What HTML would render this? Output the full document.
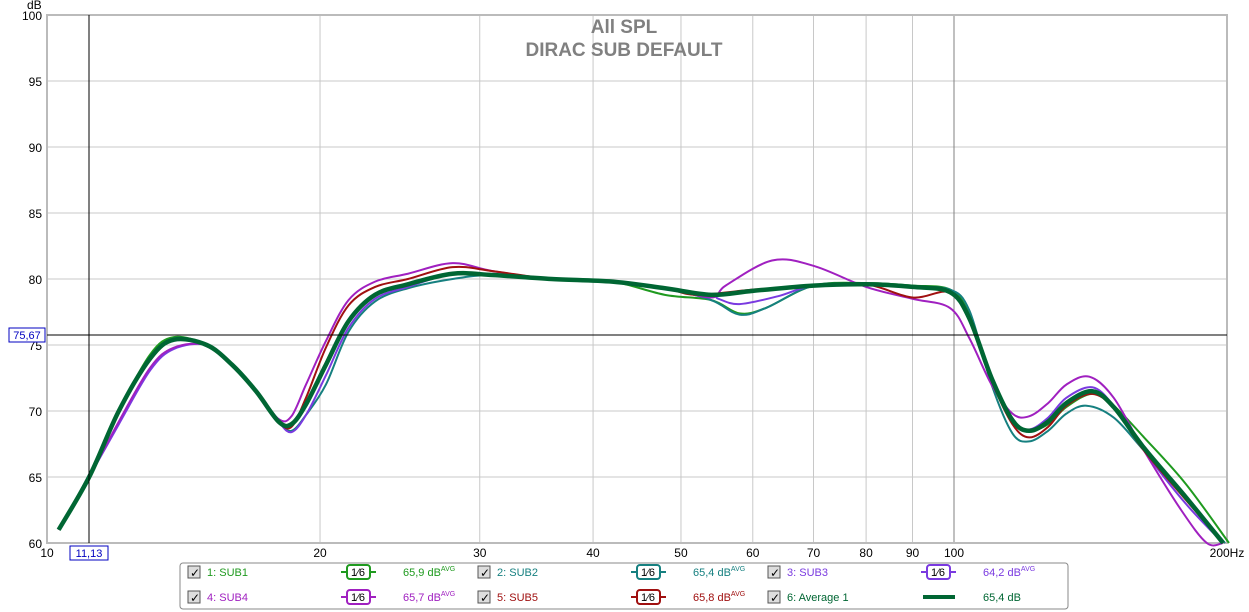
<!DOCTYPE html>
<html><head><meta charset="utf-8"><style>
body{margin:0;background:#fff;}
svg{display:block;font-family:"Liberation Sans",sans-serif;}
</style></head><body>
<svg id="s" width="1249" height="612" viewBox="0 0 1249 612" xmlns="http://www.w3.org/2000/svg">
<rect width="1249" height="612" fill="#fff"/>
<g id="grid"></g>
<rect x="47" y="15" width="1180" height="528" fill="none" stroke="#bbb" stroke-width="2"/>
<text x="624" y="33" text-anchor="middle" font-size="19" font-weight="bold" fill="#808080">All SPL</text>
<text x="624" y="56" text-anchor="middle" font-size="19" font-weight="bold" fill="#808080">DIRAC SUB DEFAULT</text>
<text x="27" y="9" font-size="12" fill="#000">dB</text>
<g id="curves" fill="none"></g>
<line x1="89" y1="15" x2="89" y2="543" stroke="#000" stroke-width="1"/>
<line x1="47" y1="335" x2="1227" y2="335" stroke="#000" stroke-width="1"/>
<rect x="9" y="328" width="36" height="14" fill="#fff" stroke="#0000c0"/>
<text x="27" y="339" text-anchor="middle" font-size="11" fill="#0000c0">75,67</text>
<rect x="70" y="546" width="38" height="14" fill="#fff" stroke="#0000c0"/>
<text x="89" y="557" text-anchor="middle" font-size="11" fill="#0000c0">11,13</text>
<rect x="180" y="563" width="888" height="46" rx="3" fill="#fff" stroke="#888"/>
<g id="leg" font-size="11"></g>
</svg>
<script>
var X=f=>47+907*Math.log10(f/10), Y=d=>15+(100-d)*13.2;
var g=document.getElementById('grid'),h='';
for(var d=60;d<=100;d+=5){var y=Y(d);h+=`<line x1="47" x2="1227" y1="${y}" y2="${y}" stroke="#c8c8c8"/>`;h+=`<text x="42" y="${y+5}" text-anchor="end" font-size="12">${d}</text>`;}
[20,30,40,50,60,70,80,90,100].forEach(f=>{var x=X(f);h+=`<line x1="${x}" x2="${x}" y1="15" y2="543" stroke="${f==100?'#808080':'#c8c8c8'}"/>`;h+=`<text x="${x}" y="557" text-anchor="middle" font-size="12">${f}</text>`;});
h+=`<text x="47" y="557" text-anchor="middle" font-size="12">10</text><text x="1227" y="557" text-anchor="middle" font-size="12">200Hz</text>`;
g.innerHTML=h;
function path(pts){var p=pts.map(a=>[X(a[0]),Y(a[1])]),s='M'+p[0][0]+','+p[0][1];
for(var i=0;i<p.length-1;i++){var p0=p[Math.max(0,i-1)],p1=p[i],p2=p[i+1],p3=p[Math.min(p.length-1,i+2)];
s+=' C'+(p1[0]+(p2[0]-p0[0])/6)+','+(p1[1]+(p2[1]-p0[1])/6)+' '+(p2[0]-(p3[0]-p1[0])/6)+','+(p2[1]-(p3[1]-p1[1])/6)+' '+p2[0]+','+p2[1];}return s;}
function mk(mods){var base=[[10.3,61],[11.13,65],[12,70],[13,74],[13.8,75.4],[15,75],[16,73.5],[17,71.5],[18,69.2],[18.6,69],[19.3,70.5],[20.3,73.5],[21.5,76.8],[23,78.8],[25,79.6],[28,80.4],[31,80.3],[36,80],[42,79.8],[48,79.3],[54,78.8],[60,79.1],[70,79.5],[80,79.6],[90,79.4],[99,79],[104,77],[110,72.5],[116,69.3],[121,68.5],[127,69.2],[133,70.6],[142,71.5],[150,70.3],[162,67.2],[180,63.5],[198,60]];
return base.map((a,i)=>[a[0],a[1]+(mods[i]||0)]);}
var c=[
['#1f9a1f',2,{3:.3,4:.2,19:-.5,20:-.6,23:.1,24:.1,25:.2,26:.3},[[[54,78.4],[58,77.4],[62,77.8]],[[110,72.5],[116,69.3],[121,68.5],[127,69],[133,70.3],[142,71.3],[150,70.4],[162,68],[180,64.5],[201,60]]]],
['#168080',2,{1:.2,4:.1,9:-.5,10:-.8,11:-1.5,12:-.8,13:-.5,14:-.3,15:-.4,25:.2,26:.6},[[[54,78.4],[58,77.3],[62,77.8]],[[110,72],[116,68.3],[121,67.7],[127,68.5],[133,69.8],[140,70.4],[150,69.5],[162,67],[180,63.5],[199,60]]]],
['#7a3ae0',2,{2:-1,3:-.9,4:-.7,9:-.6,10:-.8,11:-.8,12:-.5,13:-.3,14:-.2},[[[55,78.5],[58,78.1],[64,78.7]],[[110,72.3],[116,69.3],[121,68.6],[127,69.5],[133,71],[142,71.8],[150,70.4],[162,67],[180,63],[198,60]]]],
['#a020c0',2,{2:-.8,3:-.7,4:-.6,8:.2,9:.6,10:1.5,11:1.8,12:1.6,13:1,14:.8,15:.8,16:.3,20:-.2,23:-.2,24:-.9,25:-1.2},[[[56,79.5],[63,81.4],[70,81]],[[104,75.5],[110,72],[116,69.8],[121,69.6],[127,70.6],[133,72],[141,72.6],[150,71],[162,67],[178,62.5],[190,60]]]],
['#a01010',2,{9:-.2,10:.5,11:1.3,12:1.2,13:.6,14:.4,15:.5,16:.3,20:-.4,24:-.8},[[[52,78.8],[60,79.2],[68,79.4]],[[110,72.3],[116,69],[121,68],[127,68.8],[133,70.4],[142,71.3],[150,70.2],[162,67],[180,63.3],[198,60]]]],
['#006633',4.5,{},[]]
];
var cs='';
c.forEach(a=>{var pts=mk(a[2]);a[3].forEach(seg=>{var lo=seg[0][0],hi=seg[seg.length-1][0];pts=pts.filter(p=>p[0]<lo||p[0]>hi).concat(seg);});pts.sort((u,v)=>u[0]-v[0]);
cs+=`<path d="${path(pts)}" stroke="${a[0]}" stroke-width="${a[1]}"/>`;});
document.getElementById('curves').innerHTML=cs;
var L=[[1,'SUB1','#1f9a1f','65,9 dB',188,572],[2,'SUB2','#168080','65,4 dB',478,572],[3,'SUB3','#7a3ae0','64,2 dB',768,572],
[4,'SUB4','#a020c0','65,7 dB',188,597],[5,'SUB5','#a01010','65,8 dB',478,597],[6,'Average 1','#006633','65,4 dB',768,597]];
var lh='';
L.forEach(l=>{var x=l[4],y=l[5];
lh+=`<rect x="${x}" y="${y-6}" width="12" height="12" fill="#ddd" stroke="#555"/><text x="${x+2}" y="${y+5}" font-size="12" fill="#000">✓</text>`;
lh+=`<text x="${x+19}" y="${y+4}" fill="${l[2]}">${l[0]}: ${l[1]}</text>`;
if(l[0]<6){lh+=`<line x1="${x+153}" x2="${x+188}" y1="${y}" y2="${y}" stroke="${l[2]}" stroke-width="2"/><rect x="${x+159}" y="${y-7}" width="23" height="14" rx="3" fill="#fff" stroke="${l[2]}" stroke-width="2"/><text x="${x+170}" y="${y+4}" text-anchor="middle" font-size="11" fill="#000">1⁄6</text>`;
lh+=`<text x="${x+215}" y="${y+4}" fill="${l[2]}">${l[3]}<tspan font-size="7" dy="-5">AVG</tspan></text>`;}
else{lh+=`<line x1="${x+155}" x2="${x+187}" y1="${y}" y2="${y}" stroke="${l[2]}" stroke-width="4"/><text x="${x+215}" y="${y+4}" fill="${l[2]}">${l[3]}</text>`;}
});
document.getElementById('leg').innerHTML=lh;
</script>
</body></html>
